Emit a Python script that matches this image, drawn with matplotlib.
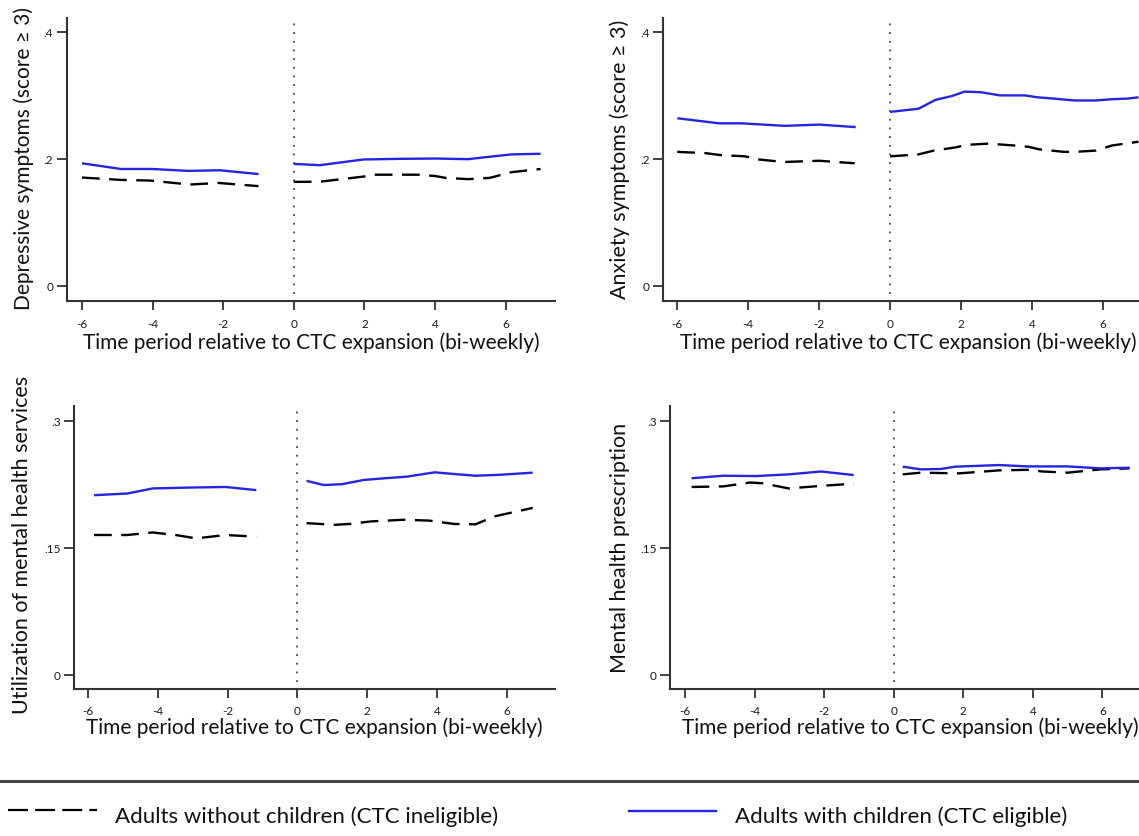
import matplotlib
matplotlib.use("Agg")
import matplotlib.pyplot as plt
import numpy as np

plt.rcParams['font.family'] = ['Lato', 'DejaVu Sans']

# ---------------- data ----------------
# Panel 1: Depressive symptoms
dep_child_pre_x = [-6, -4.9, -4, -3, -2.1, -1]
dep_child_pre_y = [0.193, 0.184, 0.184, 0.181, 0.182, 0.176]
dep_child_post_x = [0, 0.74, 1.97, 3, 4, 4.94, 5.66, 6.17, 6.99]
dep_child_post_y = [0.192, 0.190, 0.199, 0.200, 0.2005, 0.1995, 0.204, 0.207, 0.208]
dep_nochild_pre_x = [-6, -4.9, -4.08, -2.95, -2.13, -1]
dep_nochild_pre_y = [0.1705, 0.1668, 0.1658, 0.1595, 0.162, 0.157]
dep_nochild_post_x = [0, 0.74, 1.97, 2.27, 3.5, 4.0, 4.3, 4.94, 5.55, 6.17, 6.99]
dep_nochild_post_y = [0.1637, 0.164, 0.172, 0.175, 0.175, 0.173, 0.170, 0.168, 0.170, 0.179, 0.184]

# Panel 2: Anxiety symptoms
anx_child_pre_x = [-6, -4.82, -4.2, -2.97, -2, -0.97]
anx_child_pre_y = [0.264, 0.256, 0.256, 0.252, 0.254, 0.250]
anx_child_post_x = [0, 0.8, 1.28, 1.74, 2.1, 2.56, 3.1, 3.8, 4.15, 4.6, 5.2, 5.8, 6.25, 6.7, 7.0]
anx_child_post_y = [0.274, 0.279, 0.293, 0.299, 0.306, 0.305, 0.300, 0.300, 0.297, 0.295,
                    0.292, 0.292, 0.294, 0.295, 0.297]
anx_nochild_pre_x = [-6, -5.2, -4.8, -4.1, -3.7, -3, -2, -1]
anx_nochild_pre_y = [0.211, 0.209, 0.206, 0.204, 0.199, 0.195, 0.197, 0.193]
anx_nochild_post_x = [0, 0.8, 1.23, 1.84, 2.15, 2.77, 3.5, 3.9, 4.2, 4.9, 5.2, 5.8, 6.25, 7.0]
anx_nochild_post_y = [0.204, 0.207, 0.213, 0.218, 0.222, 0.224, 0.221, 0.219, 0.215, 0.211,
                      0.211, 0.213, 0.221, 0.227]

# Panel 3: Utilization of mental health services
use_child_pre_x = [-5.83, -4.875, -4.15, -3.1, -2.06, -1.18]
use_child_pre_y = [0.212, 0.214, 0.220, 0.221, 0.2217, 0.218]
use_child_post_x = [0.26, 0.75, 1.27, 1.9, 2.5, 3.15, 3.93, 4.5, 5.1, 5.75, 6.74]
use_child_post_y = [0.229, 0.224, 0.225, 0.230, 0.232, 0.234, 0.239, 0.237, 0.235, 0.236, 0.2386]
use_nochild_pre_x = [-5.83, -4.875, -4.15, -3.5, -2.9, -2.06, -1.18]
use_nochild_pre_y = [0.165, 0.165, 0.168, 0.165, 0.161, 0.165, 0.163]
use_nochild_post_x = [0.26, 1.06, 1.48, 2.1, 3.04, 3.77, 4.5, 5.1, 5.65, 6.74]
use_nochild_post_y = [0.179, 0.177, 0.178, 0.181, 0.183, 0.182, 0.178, 0.1776, 0.187, 0.197]

# Panel 4: Mental health prescription
rx_child_pre_x = [-5.81, -4.9, -3.96, -3.02, -2.09, -1.15]
rx_child_pre_y = [0.232, 0.235, 0.2346, 0.2366, 0.240, 0.2358]
rx_child_post_x = [0.26, 0.78, 1.36, 1.77, 3.02, 3.86, 5.0, 5.94, 6.78]
rx_child_post_y = [0.2457, 0.2425, 0.243, 0.2457, 0.2476, 0.246, 0.246, 0.2437, 0.2445]
rx_nochild_pre_x = [-5.81, -4.9, -4.12, -3.75, -3.02, -2.09, -1.15]
rx_nochild_pre_y = [0.2217, 0.2224, 0.227, 0.226, 0.220, 0.223, 0.2256]
rx_nochild_post_x = [0.26, 0.78, 1.88, 3.02, 3.86, 4.28, 5.0, 5.94, 6.78]
rx_nochild_post_y = [0.2366, 0.2386, 0.2378, 0.2413, 0.242, 0.240, 0.2386, 0.2425, 0.2437]

x_ticks = [-6, -4, -2, 0, 2, 4, 6]
x_tick_labels = ['-6', '-4', '-2', '0', '2', '4', '6']
top_y_ticks = [0, 0.2, 0.4]
top_y_tick_labels = ['0', '.2', '.4']
bot_y_ticks = [0, 0.15, 0.3]
bot_y_tick_labels = ['0', '.15', '.3']

y_titles = ['Depressive symptoms (score \u2265 3)', 'Anxiety symptoms (score \u2265 3)',
            'Utilization of mental health services', 'Mental health prescription']
x_title = 'Time period relative to CTC expansion (bi-weekly)'
legend_labels = ['Adults without children (CTC ineligible)', 'Adults with children (CTC eligible)']

# ---------------- figure ----------------
W, H = 1139, 837
fig = plt.figure(figsize=(W / 100, H / 100), dpi=100)

BLUE = '#2525e0'
AX_COL = '#333333'
TXT = '#111111'


def px_rect(left, top, right, bottom):
    return [left / W, 1 - bottom / H, (right - left) / W, (bottom - top) / H]


panels = [
    dict(rect=px_rect(66.5, 19, 555, 301.7), xlim=(-6.44, 7.40), ylim=(-0.0236, 0.422),
         yt=top_y_ticks, ytl=top_y_tick_labels, vline=(-0.013, 0.418),
         child=[(dep_child_pre_x, dep_child_pre_y), (dep_child_post_x, dep_child_post_y)],
         nochild=[(dep_nochild_pre_x, dep_nochild_pre_y), (dep_nochild_post_x, dep_nochild_post_y)],
         ylab=(23.6, 158, 15), xlab=(311, 349), pad=6.0),
    dict(rect=px_rect(662.7, 19, 1152.7, 301.7), xlim=(-6.41, 7.40), ylim=(-0.0236, 0.422),
         yt=top_y_ticks, ytl=top_y_tick_labels, vline=(-0.013, 0.418),
         child=[(anx_child_pre_x, anx_child_pre_y), (anx_child_post_x, anx_child_post_y)],
         nochild=[(anx_nochild_pre_x, anx_nochild_pre_y), (anx_nochild_post_x, anx_nochild_post_y)],
         ylab=(620, 159, 15.5), xlab=(908, 349), pad=6.0),
    dict(rect=px_rect(73.8, 407.3, 555, 690), xlim=(-6.41, 7.38), ylim=(-0.0169, 0.317),
         yt=bot_y_ticks, ytl=bot_y_tick_labels, vline=(-0.009, 0.314),
         child=[(use_child_pre_x, use_child_pre_y), (use_child_post_x, use_child_post_y)],
         nochild=[(use_nochild_pre_x, use_nochild_pre_y), (use_nochild_post_x, use_nochild_post_y)],
         ylab=(22.5, 545, 15.5), xlab=(314, 734), pad=5.0),
    dict(rect=px_rect(670, 407.3, 1150.4, 690), xlim=(-6.43, 7.38), ylim=(-0.0169, 0.317),
         yt=bot_y_ticks, ytl=bot_y_tick_labels, vline=(-0.009, 0.314),
         child=[(rx_child_pre_x, rx_child_pre_y), (rx_child_post_x, rx_child_post_y)],
         nochild=[(rx_nochild_pre_x, rx_nochild_pre_y), (rx_nochild_post_x, rx_nochild_post_y)],
         ylab=(620, 548, 15.5), xlab=(910, 734), pad=5.0),
]

for i, p in enumerate(panels):
    ax = fig.add_axes(p['rect'])
    ax.set_facecolor('none')
    ax.set_xlim(*p['xlim'])
    ax.set_ylim(*p['ylim'])
    for s in ('top', 'right'):
        ax.spines[s].set_visible(False)
    for s in ('left', 'bottom'):
        ax.spines[s].set_color(AX_COL)
        ax.spines[s].set_linewidth(1.5)
    ax.set_xticks(x_ticks)
    ax.set_xticklabels(x_tick_labels)
    ax.set_yticks(p['yt'])
    ax.set_yticklabels(p['ytl'])
    ax.tick_params(axis='x', direction='out', length=6.5, width=1.3, color=AX_COL,
                   labelsize=8.5, pad=p['pad'], labelcolor='#1a1a1a')
    ax.tick_params(axis='y', direction='out', length=7, width=1.3, color=AX_COL,
                   labelsize=8.5, pad=2.5, labelcolor='#1a1a1a')

    ax.plot([0, 0], p['vline'], color='#444444', lw=1.3, linestyle=(0, (1, 3.8)))
    for xs, ys in p['nochild']:
        ax.plot(xs, ys, color='black', lw=1.7, linestyle=(0, (7.5, 4)))
    for xs, ys in p['child']:
        ax.plot(xs, ys, color=BLUE, lw=1.7, solid_capstyle='butt')

    fig.text(p['ylab'][0] / W, 1 - p['ylab'][1] / H, y_titles[i], rotation=90,
             ha='center', va='center', fontsize=p['ylab'][2], color=TXT)
    fig.text(p['xlab'][0] / W, 1 - p['xlab'][1] / H, x_title, ha='center', va='baseline',
             fontsize=15, color=TXT)

# separator and legend
fig.add_artist(plt.Line2D([0, 1], [1 - 782 / H, 1 - 782 / H], color='#444444', lw=2.2))
fig.add_artist(plt.Line2D([8 / W, 97 / W], [1 - 811 / H, 1 - 811 / H], color='black', lw=1.6,
                          linestyle=(0, (9, 3.2))))
fig.add_artist(plt.Line2D([629 / W, 716 / W], [1 - 812 / H, 1 - 812 / H], color=BLUE, lw=1.7))
fig.text(115 / W, 1 - 823 / H, legend_labels[0], ha='left', va='baseline', fontsize=16,
         color=TXT)
fig.text(735 / W, 1 - 823 / H, legend_labels[1], ha='left', va='baseline', fontsize=16,
         color=TXT)

fig.savefig('out.png', dpi=100)
